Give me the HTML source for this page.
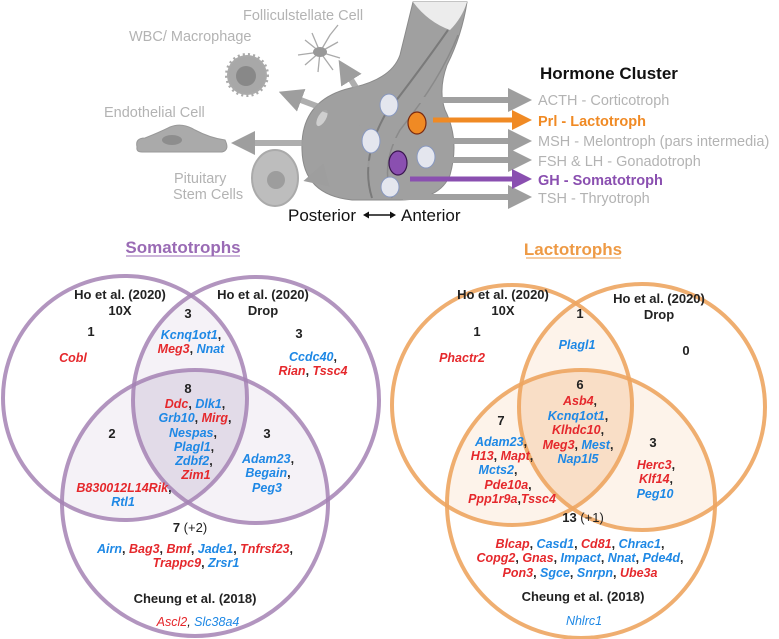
<!DOCTYPE html>
<html><head><meta charset="utf-8"><style>
html,body{margin:0;padding:0;background:#fff;}
svg{display:block;font-family:"Liberation Sans",Arial,sans-serif;}
.g{fill:#b3b3b3;font-size:14.5px;}
.h{font-size:13px;font-weight:bold;fill:#222;text-anchor:middle;}
.n{font-size:13px;font-weight:bold;fill:#222;text-anchor:middle;}
.t{font-size:12.5px;font-weight:bold;font-style:italic;text-anchor:middle;}
.r{fill:#e5282c;} .b{fill:#1e88e5;}
.k{fill:#222;font-style:normal;}
</style></head><body>
<svg width="779" height="639" viewBox="0 0 779 639" xmlns="http://www.w3.org/2000/svg">
<defs>
<marker id="ag" markerWidth="4" markerHeight="4" refX="2" refY="2" orient="auto" markerUnits="strokeWidth"><path d="M0,0 L4,2 L0,4z" fill="#9e9e9e"/></marker>
<marker id="ao" markerWidth="4" markerHeight="4" refX="2" refY="2" orient="auto" markerUnits="strokeWidth"><path d="M0,0 L4,2 L0,4z" fill="#f08a24"/></marker>
<marker id="ap" markerWidth="4" markerHeight="4" refX="2" refY="2" orient="auto" markerUnits="strokeWidth"><path d="M0,0 L4,2 L0,4z" fill="#8a4fb0"/></marker>
<clipPath id="sA"><circle cx="125" cy="398" r="122"/></clipPath>
<clipPath id="sB"><circle cx="256" cy="400" r="123"/></clipPath>
<clipPath id="lA"><circle cx="512" cy="405" r="120"/></clipPath>
<clipPath id="lB"><circle cx="642" cy="407" r="123"/></clipPath>
</defs>

<!-- top illustration -->
<text x="243" y="20" class="g">Folliculstellate Cell</text>
<text x="129" y="41" class="g">WBC/ Macrophage</text>
<text x="104" y="117" class="g">Endothelial Cell</text>
<text x="174" y="183" class="g">Pituitary</text>
<text x="173" y="199" class="g">Stem Cells</text>
<!-- folliculostellate -->
<g stroke="#aaa" stroke-width="1.3" fill="none">
<path d="M320 52 L305 40 M320 52 L312 33 M320 52 L330 35 M320 52 L338 42 M320 52 L340 58 M320 52 L333 70 M320 52 L318 72 M320 52 L305 65 M320 52 L298 55 M330 35 L338 25"/>
</g>
<ellipse cx="320" cy="52" rx="7" ry="5" fill="#999"/>
<!-- WBC -->
<circle cx="247" cy="75" r="20" fill="#aaa" stroke="#aaa" stroke-width="4" stroke-dasharray="2 3"/>
<circle cx="247" cy="75" r="18" fill="#a8a8a8"/>
<circle cx="246" cy="76" r="10" fill="#888"/>
<!-- endothelial -->
<path d="M137 147 Q135 138 145 138 Q160 132 170 127 Q182 122 195 130 Q210 138 225 140 Q230 150 222 152 L142 152 Q136 152 137 147z" fill="#aaa" stroke="#999"/>
<ellipse cx="172" cy="140" rx="10" ry="5" fill="#8d8d8d"/>
<!-- stem cell -->
<ellipse cx="275" cy="178" rx="23" ry="28" fill="#bdbdbd" stroke="#aaa" stroke-width="2"/>
<circle cx="276" cy="180" r="9" fill="#9d9d9d"/>
<!-- pituitary -->
<path d="M302 150 Q300 98 355 87 Q392 78 400 55 L413 2 L467 2 Q462 35 447 65 Q438 90 445 110 Q460 140 450 175 Q440 200 400 200 L352 200 Q303 195 302 150z" fill="#a0a0a0" stroke="#8a8a8a"/>
<path d="M413 2 L467 2 Q462 18 450 30 Q428 22 413 2z" fill="#ececec"/>
<path d="M448 30 Q420 70 385 115 Q360 160 372 198" stroke="#7a7a7a" stroke-width="2" fill="none"/>
<path d="M458 35 Q440 80 400 130 Q380 165 392 198" stroke="#8a8a8a" stroke-width="1.5" fill="none"/>
<ellipse cx="322" cy="118" rx="4" ry="9" fill="#cfcfcf" transform="rotate(30 322 118)"/>
<!-- left arrows -->
<g stroke="#a0a0a0" stroke-width="6" stroke-opacity="0.85" fill="none">
<line x1="375" y1="143" x2="243" y2="143" marker-end="url(#ag)"/>
<line x1="375" y1="128" x2="290" y2="96" marker-end="url(#ag)"/>
<line x1="375" y1="118" x2="345" y2="70" marker-end="url(#ag)"/>
<line x1="372" y1="163" x2="315" y2="178" marker-end="url(#ag)"/>
</g>
<!-- right arrows -->
<g stroke="#a0a0a0" stroke-width="6" fill="none">
<line x1="403" y1="100" x2="520" y2="100" marker-end="url(#ag)"/>
<line x1="383" y1="141" x2="520" y2="141" marker-end="url(#ag)"/>
<line x1="440" y1="160" x2="520" y2="160" marker-end="url(#ag)"/>
<line x1="403" y1="197" x2="520" y2="197" marker-end="url(#ag)"/>
</g>
<line x1="433" y1="120" x2="522" y2="120" stroke="#f08a24" stroke-width="5" marker-end="url(#ao)"/>
<line x1="410" y1="179" x2="522" y2="179" stroke="#8a4fb0" stroke-width="5" marker-end="url(#ap)"/>
<g fill="#e4e6ee" stroke="#8898c0" stroke-width="1">
<ellipse cx="389" cy="105" rx="9" ry="11"/>
<ellipse cx="371" cy="141" rx="9" ry="12"/>
<ellipse cx="426" cy="157" rx="9" ry="11"/>
<ellipse cx="390" cy="187" rx="9" ry="10"/>
</g>
<ellipse cx="417" cy="123" rx="9" ry="11" fill="#f08a24" stroke="#7a2a10" stroke-width="1.2"/>
<ellipse cx="398" cy="163" rx="9" ry="12" fill="#8a4fb0" stroke="#3a1550" stroke-width="1.2"/>
<text x="540" y="79" font-size="17" font-weight="bold" fill="#111">Hormone Cluster</text>
<text x="538" y="105" class="g">ACTH - Corticotroph</text>
<text x="538" y="126" font-size="14.5" font-weight="bold" fill="#f08a24">Prl - Lactotroph</text>
<text x="538" y="146" class="g">MSH - Melontroph (pars intermedia)</text>
<text x="538" y="166" class="g">FSH &amp; LH - Gonadotroph</text>
<text x="538" y="185" font-size="14.5" font-weight="bold" fill="#8a4fb0">GH - Somatotroph</text>
<text x="538" y="203" class="g">TSH - Thryotroph</text>
<text x="288" y="221" font-size="17" fill="#111">Posterior</text>
<line x1="366" y1="215" x2="393" y2="215" stroke="#111" stroke-width="1.5"/>
<path d="M363 215 l6 -3.5 v7z M396 215 l-6 -3.5 v7z" fill="#111"/>
<text x="401" y="221" font-size="17" fill="#111">Anterior</text>

<!-- Somatotrophs venn -->
<text x="183" y="253" text-anchor="middle" font-size="17" font-weight="bold" fill="#9a6bb5">Somatotrophs</text>
<line x1="126" y1="256" x2="240" y2="256" stroke="#9a6bb5" stroke-width="1"/>
<g fill="#7b5a9e" fill-opacity="0.08">
<circle cx="256" cy="400" r="123" clip-path="url(#sA)"/>
<circle cx="195" cy="503" r="133" clip-path="url(#sA)"/>
<circle cx="195" cy="503" r="133" clip-path="url(#sB)"/>
</g>
<g fill="none" stroke="#a582b4" stroke-width="4" stroke-opacity="0.85">
<circle cx="125" cy="398" r="122"/>
<circle cx="256" cy="400" r="123"/>
<circle cx="195" cy="503" r="133"/>
</g>
<text x="120" y="299" class="h">Ho et al. (2020)</text>
<text x="120" y="315" class="h">10X</text>
<text x="263" y="299" class="h">Ho et al. (2020)</text>
<text x="263" y="315" class="h">Drop</text>
<text x="188" y="318" class="n">3</text>
<text x="191" y="339" class="t"><tspan class="b">Kcnq1ot1</tspan><tspan class="k">,</tspan></text>
<text x="191" y="353" class="t"><tspan class="r">Meg3</tspan><tspan class="k">, </tspan><tspan class="b">Nnat</tspan></text>
<text x="91" y="336" class="n">1</text>
<text x="73" y="362" class="t r">Cobl</text>
<text x="299" y="338" class="n">3</text>
<text x="313" y="361" class="t"><tspan class="b">Ccdc40</tspan><tspan class="k">,</tspan></text>
<text x="313" y="375" class="t"><tspan class="r">Rian</tspan><tspan class="k">, </tspan><tspan class="r">Tssc4</tspan></text>
<text x="188" y="393" class="n">8</text>
<text x="195" y="408" class="t"><tspan class="r">Ddc</tspan><tspan class="k">, </tspan><tspan class="b">Dlk1</tspan><tspan class="k">,</tspan></text>
<text x="195" y="422" class="t"><tspan class="b">Grb10</tspan><tspan class="k">, </tspan><tspan class="r">Mirg</tspan><tspan class="k">,</tspan></text>
<text x="193" y="437" class="t"><tspan class="b">Nespas</tspan><tspan class="k">,</tspan></text>
<text x="194" y="451" class="t"><tspan class="b">Plagl1</tspan><tspan class="k">,</tspan></text>
<text x="194" y="465" class="t"><tspan class="b">Zdbf2</tspan><tspan class="k">,</tspan></text>
<text x="196" y="479" class="t r">Zim1</text>
<text x="112" y="438" class="n">2</text>
<text x="124" y="492" class="t"><tspan class="r">B830012L14Rik</tspan><tspan class="k">,</tspan></text>
<text x="123" y="506" class="t b">Rtl1</text>
<text x="267" y="438" class="n">3</text>
<text x="268" y="463" class="t"><tspan class="b">Adam23</tspan><tspan class="k">,</tspan></text>
<text x="268" y="477" class="t"><tspan class="b">Begain</tspan><tspan class="k">,</tspan></text>
<text x="267" y="492" class="t b">Peg3</text>
<text x="190" y="532" class="n">7 <tspan font-weight="normal">(+2)</tspan></text>
<text x="195" y="553" class="t"><tspan class="b">Airn</tspan><tspan class="k">, </tspan><tspan class="r">Bag3</tspan><tspan class="k">, </tspan><tspan class="r">Bmf</tspan><tspan class="k">, </tspan><tspan class="b">Jade1</tspan><tspan class="k">, </tspan><tspan class="r">Tnfrsf23</tspan><tspan class="k">,</tspan></text>
<text x="196" y="567" class="t"><tspan class="r">Trappc9</tspan><tspan class="k">, </tspan><tspan class="b">Zrsr1</tspan></text>
<text x="195" y="603" class="h">Cheung et al. (2018)</text>
<text x="198" y="626" font-size="12.5" font-style="italic" text-anchor="middle"><tspan class="r">Ascl2</tspan><tspan fill="#222">, </tspan><tspan class="b">Slc38a4</tspan></text>

<!-- Lactotrophs venn -->
<text x="573" y="255" text-anchor="middle" font-size="17" font-weight="bold" fill="#ee9a45">Lactotrophs</text>
<line x1="526" y1="258" x2="621" y2="258" stroke="#ee9a45" stroke-width="1"/>
<g fill="#f0a050" fill-opacity="0.12">
<circle cx="642" cy="407" r="123" clip-path="url(#lA)"/>
<circle cx="581" cy="504" r="134" clip-path="url(#lA)"/>
<circle cx="581" cy="504" r="134" clip-path="url(#lB)"/>
</g>
<g fill="none" stroke="#eda560" stroke-width="4" stroke-opacity="0.9">
<circle cx="512" cy="405" r="120"/>
<circle cx="642" cy="407" r="123"/>
<circle cx="581" cy="504" r="134"/>
</g>
<text x="503" y="299" class="h">Ho et al. (2020)</text>
<text x="503" y="315" class="h">10X</text>
<text x="659" y="303" class="h">Ho et al. (2020)</text>
<text x="659" y="319" class="h">Drop</text>
<text x="580" y="318" class="n">1</text>
<text x="577" y="349" class="t b">Plagl1</text>
<text x="477" y="336" class="n">1</text>
<text x="462" y="362" class="t r">Phactr2</text>
<text x="686" y="355" class="n">0</text>
<text x="580" y="389" class="n">6</text>
<text x="580" y="405" class="t"><tspan class="r">Asb4</tspan><tspan class="k">,</tspan></text>
<text x="578" y="420" class="t"><tspan class="b">Kcnq1ot1</tspan><tspan class="k">,</tspan></text>
<text x="578" y="434" class="t"><tspan class="r">Klhdc10</tspan><tspan class="k">,</tspan></text>
<text x="578" y="449" class="t"><tspan class="r">Meg3</tspan><tspan class="k">, </tspan><tspan class="b">Mest</tspan><tspan class="k">,</tspan></text>
<text x="578" y="463" class="t b">Nap1l5</text>
<text x="501" y="425" class="n">7</text>
<text x="501" y="446" class="t"><tspan class="b">Adam23</tspan><tspan class="k">,</tspan></text>
<text x="502" y="460" class="t"><tspan class="r">H13</tspan><tspan class="k">, </tspan><tspan class="r">Mapt</tspan><tspan class="k">,</tspan></text>
<text x="498" y="474" class="t"><tspan class="b">Mcts2</tspan><tspan class="k">,</tspan></text>
<text x="508" y="489" class="t"><tspan class="r">Pde10a</tspan><tspan class="k">,</tspan></text>
<text x="512" y="503" class="t"><tspan class="r">Ppp1r9a</tspan><tspan class="k">,</tspan><tspan class="r">Tssc4</tspan></text>
<text x="653" y="447" class="n">3</text>
<text x="656" y="469" class="t"><tspan class="r">Herc3</tspan><tspan class="k">,</tspan></text>
<text x="656" y="483" class="t"><tspan class="r">Klf14</tspan><tspan class="k">,</tspan></text>
<text x="655" y="498" class="t b">Peg10</text>
<text x="583" y="522" class="n">13 <tspan font-weight="normal">(+1)</tspan></text>
<text x="580" y="548" class="t"><tspan class="r">Blcap</tspan><tspan class="k">, </tspan><tspan class="b">Casd1</tspan><tspan class="k">, </tspan><tspan class="r">Cd81</tspan><tspan class="k">, </tspan><tspan class="b">Chrac1</tspan><tspan class="k">,</tspan></text>
<text x="580" y="562" class="t"><tspan class="r">Copg2</tspan><tspan class="k">, </tspan><tspan class="r">Gnas</tspan><tspan class="k">, </tspan><tspan class="b">Impact</tspan><tspan class="k">, </tspan><tspan class="b">Nnat</tspan><tspan class="k">, </tspan><tspan class="b">Pde4d</tspan><tspan class="k">,</tspan></text>
<text x="580" y="577" class="t"><tspan class="r">Pon3</tspan><tspan class="k">, </tspan><tspan class="b">Sgce</tspan><tspan class="k">, </tspan><tspan class="b">Snrpn</tspan><tspan class="k">, </tspan><tspan class="r">Ube3a</tspan></text>
<text x="583" y="601" class="h">Cheung et al. (2018)</text>
<text x="584" y="625" font-size="12.5" font-style="italic" text-anchor="middle" class="b">Nhlrc1</text>
</svg>
</body></html>
